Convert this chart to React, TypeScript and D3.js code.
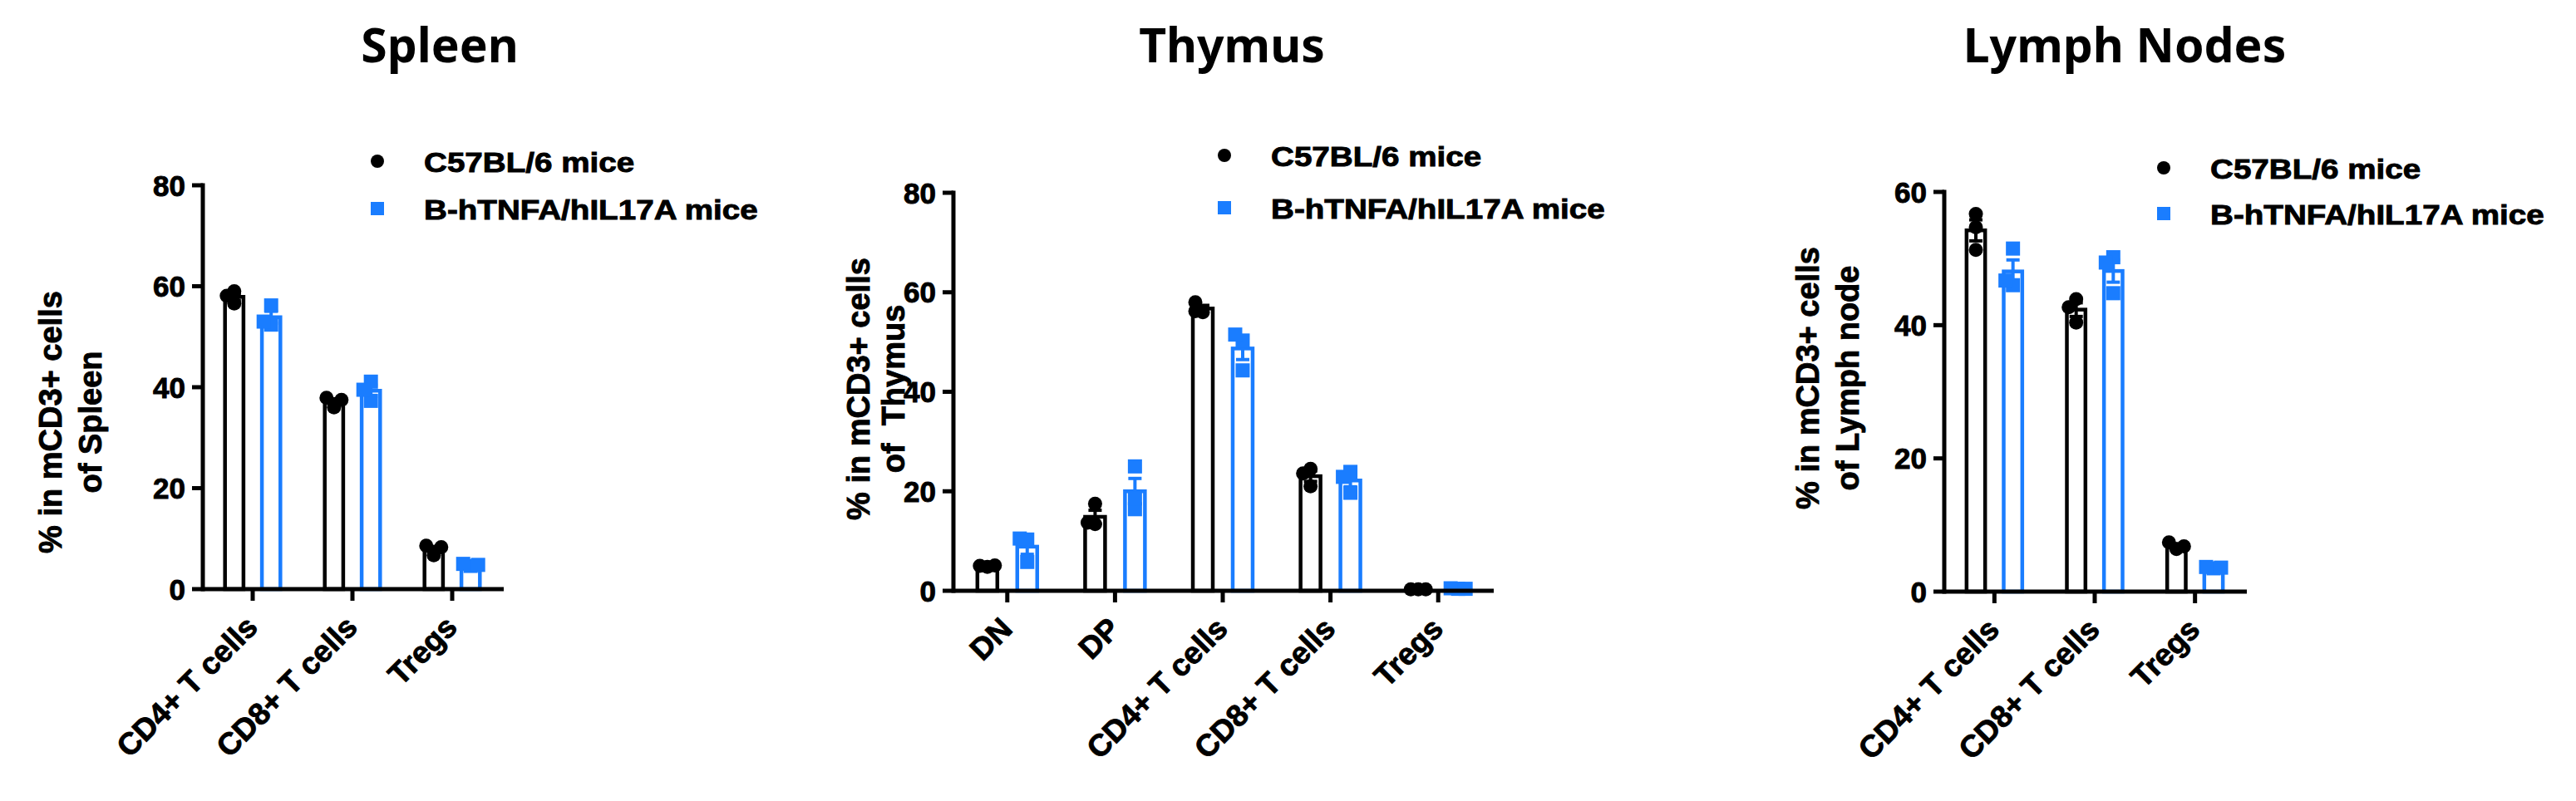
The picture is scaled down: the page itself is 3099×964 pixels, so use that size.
import React from "react";
import * as d3 from "d3";

const BLACK = "#000000";
const BLUE = "#1a7dff";
const FONT = "'Liberation Sans', Arial, sans-serif";
const TITLE_FONT = "'Noto Sans', 'Open Sans', sans-serif";
// the source text is a touch heavier than plain bold
const HEAVY = {stroke: BLACK, strokeWidth: 0.9};

const seriesNames = ["C57BL/6 mice", "B-hTNFA/hIL17A mice"];

// Spleen
const spleenCategories = ["CD4+ T cells", "CD8+ T cells", "Tregs"];
const spleenC57 = [
	[56.6, 59.0, 58.1],
	[36.0, 37.9, 37.5],
	[6.7, 8.6, 8.3],
];
const spleenHumanized = [
	[52.4, 56.2, 53.0],
	[37.3, 41.1, 39.5],
	[4.6, 5.0, 4.8],
];
const spleenTicks = [0, 20, 40, 60, 80];

// Thymus
const thymusCategories = ["DN", "DP", "CD4+ T cells", "CD8+ T cells", "Tregs"];
const thymusC57 = [
	[4.8, 5.0, 5.1],
	[13.4, 17.5, 13.7],
	[56.0, 58.0, 56.2],
	[21.0, 24.5, 23.6],
	[0.3, 0.3, 0.3],
];
const thymusHumanized = [
	[5.8, 10.3, 10.5],
	[16.4, 25.0, 18.6],
	[44.3, 50.3, 51.5],
	[19.7, 23.9, 22.9],
	[0.4, 0.5, 0.4],
];
const thymusTicks = [0, 20, 40, 60, 80];

// Lymph nodes
const lymphCategories = ["CD4+ T cells", "CD8+ T cells", "Tregs"];
const lymphC57 = [
	[51.3, 56.7, 54.7],
	[40.4, 43.9, 42.7],
	[6.4, 7.4, 6.8],
];
const lymphHumanized = [
	[46.0, 51.5, 46.7],
	[44.8, 50.2, 49.4],
	[3.5, 3.7, 3.6],
];
const lymphTicks = [0, 20, 40, 60];

interface PanelSpec {
	title: string;
	titleX: number;
	categories: string[];
	c57: number[][];
	humanized: number[][];
	ticks: number[];
	yLabel: string[];
	yLabelX: number[];
	yLabelY: number;
	left: number;
	right: number;
	top: number;
	bottom: number;
	legendX: number;
	legendRows: number[];
}

const panels: PanelSpec[] = [
	{
		title: "Spleen",
		titleX: 529,
		categories: spleenCategories,
		c57: spleenC57,
		humanized: spleenHumanized,
		ticks: spleenTicks,
		yLabel: ["% in mCD3+ cells", "of Spleen"],
		yLabelX: [74, 122],
		yLabelY: 508,
		left: 244,
		right: 604,
		top: 223,
		bottom: 709,
		legendX: 454,
		legendRows: [194, 251],
	},
	{
		title: "Thymus",
		titleX: 1482,
		categories: thymusCategories,
		c57: thymusC57,
		humanized: thymusHumanized,
		ticks: thymusTicks,
		yLabel: ["% in mCD3+ cells", "of  Thymus"],
		yLabelX: [1046, 1088],
		yLabelY: 468,
		left: 1147,
		right: 1795,
		top: 232,
		bottom: 711,
		legendX: 1473,
		legendRows: [187, 250],
	},
	{
		title: "Lymph Nodes",
		titleX: 2556,
		categories: lymphCategories,
		c57: lymphC57,
		humanized: lymphHumanized,
		ticks: lymphTicks,
		yLabel: ["% in mCD3+ cells", "of Lymph node"],
		yLabelX: [2188, 2236],
		yLabelY: 455,
		left: 2339,
		right: 2701,
		top: 231,
		bottom: 712,
		legendX: 2603,
		legendRows: [202, 257],
	},
];

// spread overlapping points sideways, like a small beeswarm
function swarm(values: number[], y: (v: number) => number, step: number, minDist: number) {
	const placed: {x: number; y: number}[] = [];
	return values.map((v) => {
		const py = y(v);
		let best = 0;
		let bestD = -1;
		for (const dx of [0, -step, step]) {
			const d = placed.length
				? Math.min(...placed.map((p) => Math.hypot(p.x - dx, p.y - py)))
				: Infinity;
			if (d >= minDist) {
				best = dx;
				break;
			}
			if (d > bestD) {
				bestD = d;
				best = dx;
			}
		}
		placed.push({x: best, y: py});
		return best;
	});
}

const Panel: React.FC<{p: PanelSpec}> = ({p}) => {
	const yMax = p.ticks[p.ticks.length - 1];
	const y = d3.scaleLinear().domain([0, yMax]).range([p.bottom, p.top]);
	const x = d3.scaleBand().domain(p.categories).range([p.left, p.right]).padding(0);
	const bw = x.bandwidth();
	const barW = bw * 0.185;
	const off = bw * 0.185;
	const series = [
		{data: p.c57, color: BLACK, dx: -off},
		{data: p.humanized, color: BLUE, dx: off},
	];

	return (
		<g>
			<text
				x={p.titleX}
				y={75}
				textAnchor="middle"
				fontFamily={TITLE_FONT}
				fontWeight={700}
				fontSize={57}
			>
				{p.title}
			</text>

			{/* legend */}
			<circle cx={p.legendX} cy={p.legendRows[0]} r={8} fill={BLACK} />
			<rect x={p.legendX - 8} y={p.legendRows[1] - 8} width={16} height={16} fill={BLUE} />
			{seriesNames.map((name, i) => (
				<text
					key={name}
					transform={`translate(${p.legendX + 56},${p.legendRows[i] + 13}) scale(1.17,1)`}
					fontFamily={FONT}
					fontWeight={700}
					fontSize={33}
					{...HEAVY}
				>
					{name}
				</text>
			))}

			{/* y label */}
			{p.yLabel.map((line, i) => (
				<text
					key={i}
					transform={`translate(${p.yLabelX[i]},${p.yLabelY}) rotate(-90)`}
					textAnchor="middle"
					fontFamily={FONT}
					fontWeight={700}
					fontSize={38}
					style={{whiteSpace: "pre"}}
					{...HEAVY}
				>
					{line}
				</text>
			))}

			{/* bars, error bars, points */}
			{series.map((s, si) =>
				p.categories.map((c, ci) => {
					const vals = s.data[ci];
					const m = d3.mean(vals) as number;
					const sem = (d3.deviation(vals) as number) / Math.sqrt(vals.length);
					const cx = (x(c) as number) + bw / 2 + s.dx;
					const offsets = swarm(vals, y, 9, 12);
					return (
						<g key={`${si}-${ci}`}>
							<rect
								x={cx - barW / 2}
								y={y(m)}
								width={barW}
								height={p.bottom - y(m)}
								fill="none"
								stroke={s.color}
								strokeWidth={4.5}
							/>
							<line x1={cx} x2={cx} y1={y(m - sem)} y2={y(m + sem)} stroke={s.color} strokeWidth={4} />
							<line x1={cx - 8} x2={cx + 8} y1={y(m + sem)} y2={y(m + sem)} stroke={s.color} strokeWidth={4} />
							<line x1={cx - 8} x2={cx + 8} y1={y(m - sem)} y2={y(m - sem)} stroke={s.color} strokeWidth={4} />
							{vals.map((v, vi) =>
								si === 0 ? (
									<circle key={vi} cx={cx + offsets[vi]} cy={y(v)} r={8.5} fill={BLACK} />
								) : (
									<rect
										key={vi}
										x={cx + offsets[vi] - 8.5}
										y={y(v) - 8.5}
										width={17}
										height={17}
										fill={BLUE}
									/>
								),
							)}
						</g>
					);
				}),
			)}

			{/* y axis */}
			<line x1={p.left} x2={p.left} y1={p.top - 2.5} y2={p.bottom + 2.5} stroke={BLACK} strokeWidth={5} />
			{p.ticks.map((t) => (
				<g key={t}>
					<line x1={p.left - 13} x2={p.left} y1={y(t)} y2={y(t)} stroke={BLACK} strokeWidth={5} />
					<text
						x={p.left - 21}
						y={y(t)}
						dy="0.36em"
						textAnchor="end"
						fontFamily={FONT}
						fontWeight={700}
						fontSize={35}
						{...HEAVY}
					>
						{t}
					</text>
				</g>
			))}

			{/* x axis */}
			<line x1={p.left} x2={p.right + 2} y1={p.bottom} y2={p.bottom} stroke={BLACK} strokeWidth={5} />
			{p.categories.map((c) => {
				const tx = (x(c) as number) + bw / 2;
				return (
					<g key={c}>
						<line x1={tx} x2={tx} y1={p.bottom} y2={p.bottom + 14} stroke={BLACK} strokeWidth={5} />
						<text
							transform={`translate(${tx + 8},${p.bottom + 48}) rotate(-45)`}
							textAnchor="end"
							fontFamily={FONT}
							fontWeight={700}
							fontSize={37}
							{...HEAVY}
						>
							{c}
						</text>
					</g>
				);
			})}
		</g>
	);
};

export default function App() {
	return (
		<svg
			width={3099}
			height={964}
			style={{position: "absolute", left: 0, top: 0, background: "#ffffff"}}
		>
			<rect width={3099} height={964} fill="#ffffff" />
			{panels.map((p) => (
				<Panel key={p.title} p={p} />
			))}
		</svg>
	);
}
